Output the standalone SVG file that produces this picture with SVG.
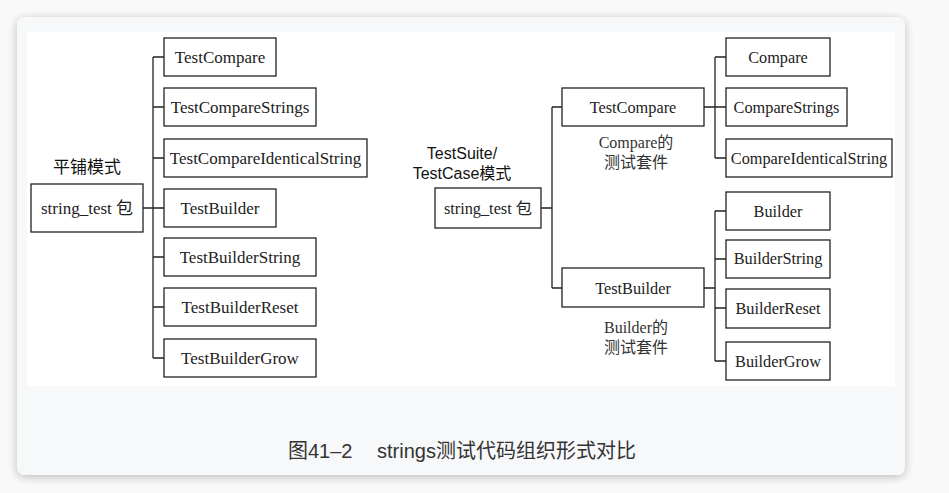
<svg xmlns="http://www.w3.org/2000/svg" width="949" height="493" viewBox="0 0 949 493">
  <defs>
    <filter id="shadow" x="-5%" y="-5%" width="110%" height="115%">
      <feGaussianBlur in="SourceAlpha" stdDeviation="5"/>
      <feOffset dx="0" dy="2"/>
      <feComponentTransfer><feFuncA type="linear" slope="0.25"/></feComponentTransfer>
      <feMerge><feMergeNode/><feMergeNode in="SourceGraphic"/></feMerge>
    </filter>
  </defs>
  <style>
    .box { fill: #ffffff; stroke: #222222; stroke-width: 1.3; }
    .lbl { font-family: 'Liberation Serif', 'Times New Roman', 'Noto Sans CJK SC', serif; font-size: 17px; fill: #222222; text-anchor: middle; }
    .lbr { font-family: 'Liberation Serif', 'Times New Roman', 'Noto Sans CJK SC', serif; font-size: 16.3px; fill: #222222; text-anchor: middle; }
    .note { font-family: 'Liberation Serif', 'Times New Roman', 'Noto Sans CJK SC', serif; font-size: 16px; fill: #333333; text-anchor: middle; }
    .title { font-family: 'Liberation Sans', Arial, 'Noto Sans CJK SC', sans-serif; font-size: 16px; fill: #111111; text-anchor: middle; }
    .cap { font-family: 'Liberation Sans', Arial, 'Noto Sans CJK SC', sans-serif; font-size: 20px; fill: #333333; }
    .con { fill: none; stroke: #222222; stroke-width: 1.3; }
  </style>
  <rect x="0" y="0" width="949" height="493" fill="#f9f9f9"/>
  <rect x="17" y="17" width="888" height="458" rx="8" fill="#f7f8fa" filter="url(#shadow)"/>
  <rect x="27" y="32" width="868" height="354" fill="#ffffff"/>

  <g id="connectors">
    <path class="con" d="M143 208 H153 M153 57 V358 M153 57 H164 M153 107 H164 M153 158 H164 M153 208 H164 M153 257 H164 M153 307 H164 M153 358 H164"/>
    <path class="con" d="M541 208 H552 M552 107 V288 M552 107 H562 M552 288 H562"/>
    <path class="con" d="M704 107 H715 M715 57 V158 M715 57 H726 M715 107 H726 M715 158 H726"/>
    <path class="con" d="M704 288 H715 M715 211 V361 M715 211 H726 M715 259 H726 M715 308 H726 M715 361 H726"/>
  </g>

  <text class="title" x="87" y="173" style="font-size:17px">平铺模式</text>
  <g id="left-root">
    <rect class="box" x="31" y="184" width="112" height="48"/>
    <text class="lbl" x="87" y="214">string_test 包</text>
  </g>
  <g id="l-TestCompare">
    <rect class="box" x="164" y="38" width="112" height="38"/>
    <text class="lbl" x="220" y="63">TestCompare</text>
  </g>
  <g id="l-TestCompareStrings">
    <rect class="box" x="164" y="88" width="152" height="38"/>
    <text class="lbl" x="240" y="113">TestCompareStrings</text>
  </g>
  <g id="l-TestCompareIdenticalString">
    <rect class="box" x="164" y="139" width="203" height="38"/>
    <text class="lbl" x="265.5" y="164">TestCompareIdenticalString</text>
  </g>
  <g id="l-TestBuilder">
    <rect class="box" x="164" y="189" width="112" height="38"/>
    <text class="lbl" x="220" y="214">TestBuilder</text>
  </g>
  <g id="l-TestBuilderString">
    <rect class="box" x="164" y="238" width="152" height="38"/>
    <text class="lbl" x="240" y="263">TestBuilderString</text>
  </g>
  <g id="l-TestBuilderReset">
    <rect class="box" x="164" y="288" width="152" height="38"/>
    <text class="lbl" x="240" y="313">TestBuilderReset</text>
  </g>
  <g id="l-TestBuilderGrow">
    <rect class="box" x="164" y="339" width="152" height="38"/>
    <text class="lbl" x="240" y="364">TestBuilderGrow</text>
  </g>

  <text class="title" x="462" y="159">TestSuite/</text>
  <text class="title" x="462" y="179">TestCase模式</text>
  <g id="right-root">
    <rect class="box" x="435" y="188" width="106" height="40"/>
    <text class="lbr" x="488" y="214">string_test 包</text>
  </g>
  <g id="r-TestCompare">
    <rect class="box" x="562" y="88" width="142" height="38"/>
    <text class="lbr" x="633" y="113">TestCompare</text>
  </g>
  <text class="note" x="636" y="148">Compare的</text>
  <text class="note" x="636" y="168">测试套件</text>
  <g id="r-TestBuilder">
    <rect class="box" x="562" y="268" width="142" height="39"/>
    <text class="lbr" x="633" y="294">TestBuilder</text>
  </g>
  <text class="note" x="636" y="333">Builder的</text>
  <text class="note" x="636" y="353">测试套件</text>

  <g id="r-Compare">
    <rect class="box" x="726" y="38" width="104" height="38"/>
    <text class="lbr" x="778" y="63">Compare</text>
  </g>
  <g id="r-CompareStrings">
    <rect class="box" x="726" y="88" width="121" height="38"/>
    <text class="lbr" x="786.5" y="113">CompareStrings</text>
  </g>
  <g id="r-CompareIdenticalString">
    <rect class="box" x="726" y="139" width="166" height="38"/>
    <text class="lbr" x="809" y="164">CompareIdenticalString</text>
  </g>
  <g id="r-Builder">
    <rect class="box" x="726" y="192" width="104" height="38"/>
    <text class="lbr" x="778" y="217">Builder</text>
  </g>
  <g id="r-BuilderString">
    <rect class="box" x="726" y="240" width="104" height="38"/>
    <text class="lbr" x="778" y="264">BuilderString</text>
  </g>
  <g id="r-BuilderReset">
    <rect class="box" x="726" y="289" width="104" height="39"/>
    <text class="lbr" x="778" y="314">BuilderReset</text>
  </g>
  <g id="r-BuilderGrow">
    <rect class="box" x="726" y="342" width="104" height="38"/>
    <text class="lbr" x="778" y="367">BuilderGrow</text>
  </g>

  <text class="cap" x="288" y="458">图41–2</text>
  <text class="cap" x="377" y="458">strings测试代码组织形式对比</text>
</svg>
